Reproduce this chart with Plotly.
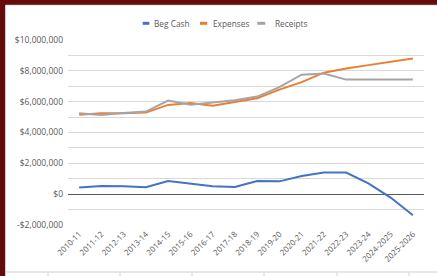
import plotly.graph_objects as go

years = ["2010-11", "2011-12", "2012-13", "2013-14", "2014-15", "2015-16", "2016-17",
         "2017-18", "2018-19", "2019-20", "2020-21", "2021-22", "2022-23", "2023-24",
         "2024-2025", "2025-2026"]
beg_cash = [0.43, 0.53, 0.52, 0.45, 0.85, 0.70, 0.52, 0.47, 0.85, 0.83, 1.18, 1.41,
            1.40, 0.70, -0.22, -1.37]
expenses = [5.15, 5.25, 5.25, 5.29, 5.79, 5.92, 5.74, 5.97, 6.22, 6.78, 7.27, 7.88,
            8.15, 8.37, 8.60, 8.80]
receipts = [5.25, 5.13, 5.27, 5.36, 6.07, 5.80, 5.94, 6.09, 6.33, 6.94, 7.75, 7.83,
            7.43, 7.43, 7.43, 7.43]
series_names = ["Beg Cash", "Expenses", "Receipts"]
series_colors = ["#4472C4", "#ED7D31", "#A5A5A5"]
y_tickvals = [v * 1_000_000 for v in range(-2, 11)]
y_ticktext = ["-$2,000,000", "", "$0", "", "$2,000,000", "", "$4,000,000", "",
              "$6,000,000", "", "$8,000,000", "", "$10,000,000"]

W, H = 437, 276
ML, MR, MT, MB = 68, 13, 40, 51
PW, PH = W - ML - MR, H - MT - MB


def px(x):
    return (x - ML) / PW


def py(y):
    return (H - MB - y) / PH


fig = go.Figure()
for name, vals, col in zip(series_names, [beg_cash, expenses, receipts], series_colors):
    fig.add_trace(go.Scatter(x=years, y=[v * 1_000_000 for v in vals], name=name,
                             mode="lines", line=dict(color=col, width=2),
                             showlegend=False, hoverinfo="skip"))

shapes = []
maroon = "#650b0b"
shapes.append(dict(type="rect", xref="paper", yref="paper", x0=px(5.5), x1=px(W + 5),
                   y0=py(H + 5), y1=py(5), fillcolor="white",
                   line=dict(color="#cfcfcf", width=1), layer="below"))
shapes.append(dict(type="rect", xref="paper", yref="paper", x0=px(-3), x1=px(W + 3),
                   y0=py(4.5), y1=py(-3), fillcolor=maroon, line_width=0, layer="above"))
shapes.append(dict(type="line", xref="paper", yref="paper", x0=px(5.5), x1=px(W + 5),
                   y0=py(272), y1=py(272), line=dict(color="#cfcfcf", width=1),
                   layer="below"))
for gx in [48, 120, 192, 264, 337, 409]:
    shapes.append(dict(type="line", xref="paper", yref="paper", x0=px(gx), x1=px(gx),
                       y0=py(H), y1=py(272.5), line=dict(color="#d0d0d0", width=1),
                       layer="below"))

legend_sym = [(142.7, 149.3), (200, 207.3), (257.3, 265.3)]
legend_txt = [151.7, 210.7, 272.7]
annotations = []
for (a, b), tx, name, col in zip(legend_sym, legend_txt, series_names, series_colors):
    shapes.append(dict(type="line", xref="paper", yref="paper", x0=px(a), x1=px(b),
                       y0=py(23.3), y1=py(23.3), line=dict(color=col, width=3)))
    annotations.append(dict(text=name, xref="paper", yref="paper", x=px(tx), y=py(23.3),
                            xanchor="left", yanchor="middle", showarrow=False,
                            font=dict(size=8.3, color="#595959")))

fig.update_layout(
    template="none",
    width=W, height=H,
    margin=dict(l=ML, r=MR, t=MT, b=MB, pad=0),
    paper_bgcolor=maroon, plot_bgcolor="white",
    font=dict(family="Open Sans", size=8.5, color="#595959"),
    shapes=shapes, annotations=annotations,
    hovermode=False,
    xaxis=dict(type="category", categoryorder="array", categoryarray=years,
               range=[-0.5, len(years) - 0.5], showgrid=False, showline=False,
               zeroline=False, ticks="", tickangle=-45, automargin=False,
               ticklabelstandoff=2,
               tickfont=dict(size=8, color="#595959")),
    yaxis=dict(range=[-2_000_000, 10_000_000], tickvals=y_tickvals, ticktext=y_ticktext,
               showgrid=True, gridcolor="#d9d9d9", gridwidth=1,
               zeroline=True, zerolinecolor="#595959", zerolinewidth=1,
               showline=False, ticks="", ticklabelstandoff=4, automargin=False,
               tickfont=dict(size=8.5, color="#595959")),
)

fig.write_html("out.html", config={"displayModeBar": False, "staticPlot": True},
               post_script="document.body.style.margin='0';")
